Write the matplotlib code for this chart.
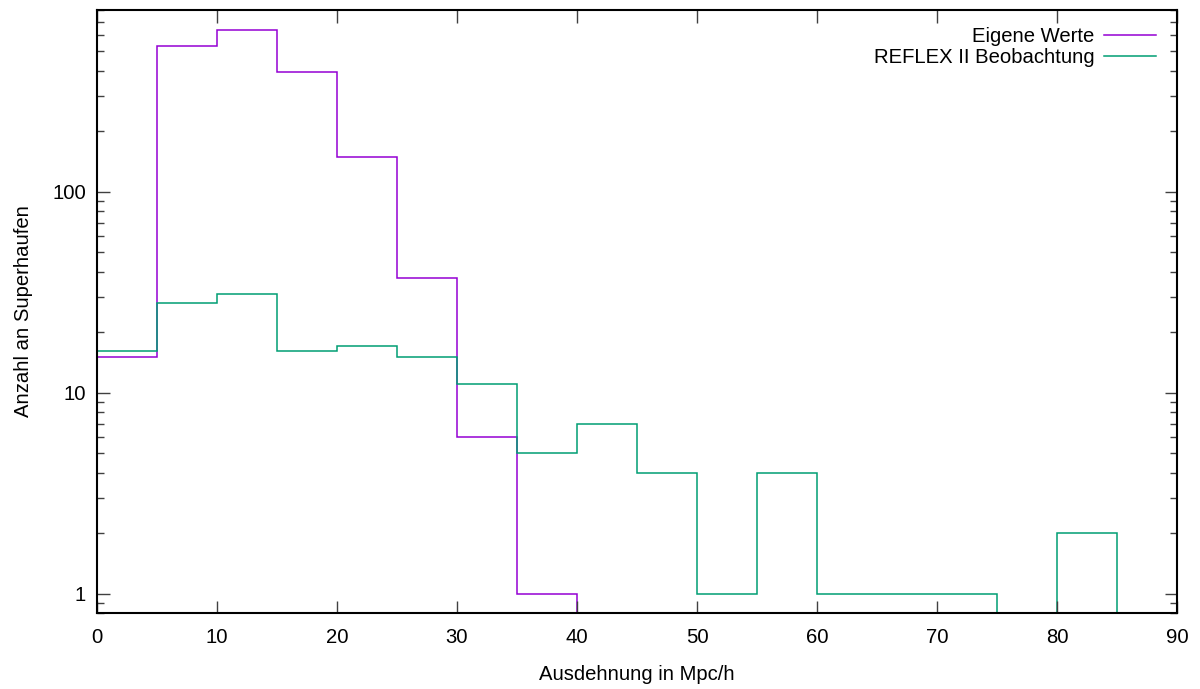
import numpy as np
import matplotlib
matplotlib.use("Agg")
import matplotlib.pyplot as plt
from matplotlib import ticker

plt.rcParams['font.family'] = ['Liberation Sans', 'DejaVu Sans']

edges_own = [0, 5, 10, 15, 20, 25, 30, 35, 40]
own_values = [15, 530, 635, 392, 148, 37, 6, 1]

edges_reflex = [0, 5, 10, 15, 20, 25, 30, 35, 40, 45, 50, 55, 60, 65, 70, 75, 80, 85]
reflex_values = [16, 28, 31, 16, 17, 15, 11, 5, 7, 4, 1, 4, 1, 1, 1, 0, 2]

labels = ["Eigene Werte", "REFLEX II Beobachtung"]
colors = ["#9400d3", "#009e73"]

fs = 14.6

fig = plt.figure(figsize=(12, 6.89), dpi=100)
ax = fig.add_axes([97/1200, 1-613/689, (1177-97)/1200, (613-10)/689])
ax.set_yscale('log')

ax.stairs(own_values, edges_own, baseline=0, color=colors[0], lw=1.1, label=labels[0])
ax.stairs(reflex_values, edges_reflex, baseline=0, color=colors[1], lw=1.1, label=labels[1])

ax.set_xlim(0, 90)
ax.set_ylim(0.8, 800)
ax.set_xticks(range(0, 91, 10))
ax.yaxis.set_major_locator(ticker.FixedLocator([1, 10, 100]))
ax.yaxis.set_major_formatter(ticker.FuncFormatter(lambda v, p: f"{v:g}"))
ax.yaxis.set_minor_locator(ticker.LogLocator(base=10, subs=np.arange(2, 10)))
ax.yaxis.set_minor_formatter(ticker.NullFormatter())

ax.tick_params(which='both', direction='in', top=True, right=True, labelsize=fs, width=1, color='#404040')
ax.tick_params(axis='x', which='major', length=9, pad=11)
ax.tick_params(axis='y', which='major', length=9, pad=8)
ax.tick_params(which='minor', length=5)
for s in ax.spines.values():
    s.set_linewidth(1.5)

ax.set_xlabel("Ausdehnung in Mpc/h", fontsize=fs, labelpad=13)
ax.set_ylabel("Anzahl an Superhaufen", fontsize=fs, labelpad=14)

ax.legend(loc='upper right', frameon=False, markerfirst=False, fontsize=fs,
          handlelength=2.6, handletextpad=0.45, labelspacing=0.1,
          borderaxespad=0.0, bbox_to_anchor=(0.9885, 0.985))

fig.savefig("out.png", dpi=100)
